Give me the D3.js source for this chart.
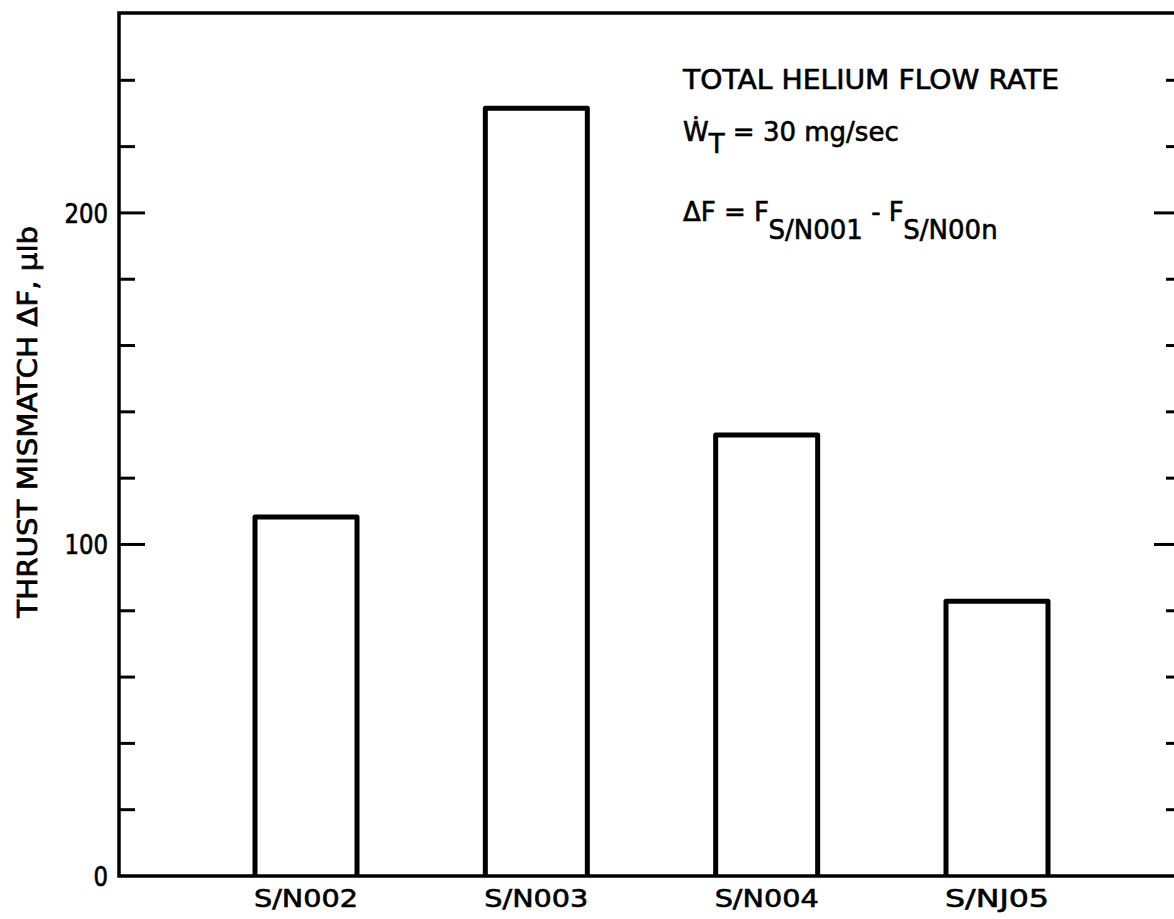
<!DOCTYPE html>
<html><head><meta charset="utf-8">
<script src="https://cdn.jsdelivr.net/npm/d3@7"></script>
<style>
html,body{margin:0;padding:0;background:#fff;}
text{font-family:"DejaVu Sans",sans-serif;fill:#000;}
</style></head>
<body>
<svg id="c" width="1174" height="919"></svg>
<script>
const categories = ["S/N002", "S/N003", "S/N004", "S/N005"];
const categoryLabels = ["S/N002", "S/N003", "S/N004", "S/NJ05"];
const values = [108.3, 231.6, 133, 82.9];
const majorTicks = [0, 100, 200];
const minorTicks = [20, 40, 60, 80, 120, 140, 160, 180, 220, 240];

(function(){
const svg = d3.select("#c");
const pLeft = 119, pRight = 1178, pTop = 13, pBottom = 876;

const y = d3.scaleLinear().domain([0, 260.3]).range([pBottom, pTop]);
const x = d3.scalePoint().domain(categories).range([306, 997]);
const barW = 102;

svg.append("path")
  .attr("d", `M${pRight},${pTop}H${pLeft}V${pBottom}H${pRight}`)
  .attr("fill","none").attr("stroke","#000").attr("stroke-width",3.5);

const g = svg.append("g");
g.selectAll(".tmaj").data(majorTicks.filter(d=>d>0)).enter().append("line")
  .attr("x1",pLeft).attr("x2",pLeft+26).attr("y1",d=>y(d)).attr("y2",d=>y(d))
  .attr("stroke","#000").attr("stroke-width",3);
g.selectAll(".tmin").data(minorTicks).enter().append("line")
  .attr("x1",pLeft).attr("x2",pLeft+16).attr("y1",d=>y(d)).attr("y2",d=>y(d))
  .attr("stroke","#000").attr("stroke-width",3);
g.selectAll(".rmaj").data(majorTicks.filter(d=>d>0)).enter().append("line")
  .attr("x1",1154).attr("x2",1178).attr("y1",d=>y(d)).attr("y2",d=>y(d))
  .attr("stroke","#000").attr("stroke-width",3);
g.selectAll(".rmin").data(minorTicks).enter().append("line")
  .attr("x1",1166).attr("x2",1178).attr("y1",d=>y(d)).attr("y2",d=>y(d))
  .attr("stroke","#000").attr("stroke-width",3);

g.selectAll(".tl").data(majorTicks).enter().append("text")
  .attr("x",pLeft-11).attr("y",d=>y(d)).attr("dy","0.37em")
  .attr("text-anchor","end").attr("font-size",27)
  .attr("stroke","#000").attr("stroke-width",0.7)
  .attr("textLength",d=>String(d).length*14.5).attr("lengthAdjust","spacingAndGlyphs")
  .text(d=>d);

svg.selectAll(".bar").data(values).enter().append("path")
  .attr("d",(d,i)=>{
    const cx = x(categories[i]);
    return `M${cx-barW/2},${pBottom}V${y(d)}H${cx+barW/2}V${pBottom}`;
  })
  .attr("fill","none").attr("stroke","#000").attr("stroke-width",5)
  .attr("stroke-linejoin","round");

svg.selectAll(".xl").data(categories).enter().append("text")
  .attr("x",d=>x(d)).attr("y",907)
  .attr("text-anchor","middle").attr("font-size",24)
  .attr("stroke","#000").attr("stroke-width",0.6)
  .attr("textLength",104).attr("lengthAdjust","spacingAndGlyphs")
  .text((d,i)=>categoryLabels[i]);

svg.append("text")
  .attr("transform",`translate(37,${y(137)}) rotate(-90)`)
  .attr("text-anchor","middle").attr("font-size",27)
  .attr("stroke","#000").attr("stroke-width",0.7)
  .attr("textLength",392).attr("lengthAdjust","spacingAndGlyphs")
  .text("THRUST MISMATCH \u0394F, \u03BClb");

const ann = svg.append("g").attr("font-size",26).attr("stroke","#000").attr("stroke-width",0.6);
ann.append("text").attr("x",683).attr("y",89)
  .attr("textLength",376).attr("lengthAdjust","spacingAndGlyphs")
  .text("TOTAL HELIUM FLOW RATE");
const t2 = ann.append("text").attr("x",683).attr("y",141);
t2.append("tspan").text("W\u0307");
t2.append("tspan").attr("dy",12).attr("font-size",26).text("T");
t2.append("tspan").attr("dy",-12).text(" = 30 mg/sec");
const t3 = ann.append("text").attr("x",683).attr("y",221);
t3.append("tspan").text("\u0394F = F");
t3.append("tspan").attr("dy",18).attr("font-size",26).text("S/N001");
t3.append("tspan").attr("dy",-18).text(" - F");
t3.append("tspan").attr("dy",18).attr("font-size",26).text("S/N00n");
})();
</script>
</body></html>
